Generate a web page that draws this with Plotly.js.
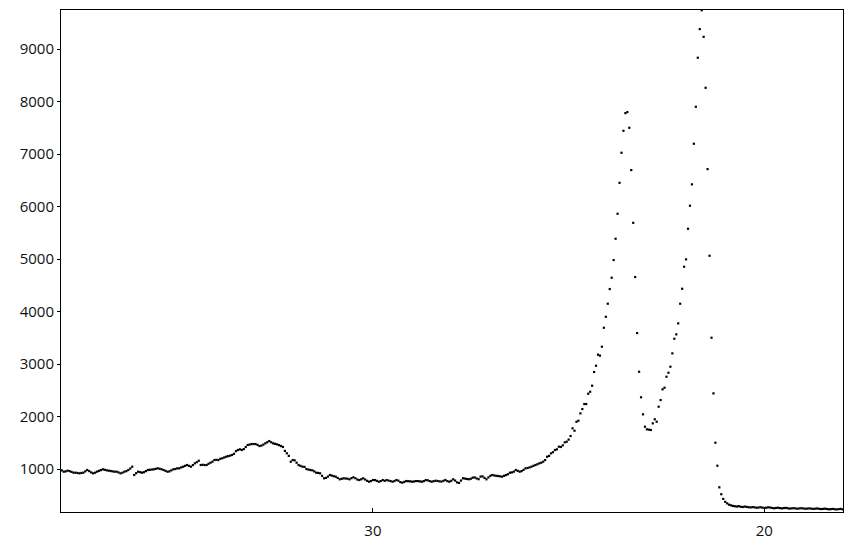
<!DOCTYPE html>
<html><head><meta charset="utf-8">
<script src="https://cdn.plot.ly/plotly-3.0.1.min.js"></script>
<style>html,body{margin:0;padding:0;background:#fff}#chart{width:853px;height:540px}</style>
</head><body><div id="chart"></div>
<script>
const twoTheta = [
37.95,37.9,37.85,37.8,37.75,37.7,37.65,37.6,37.55,37.5,37.45,37.4,37.35,37.3,37.25,37.2,37.15,37.1,37.05,37,
36.95,36.9,36.85,36.8,36.75,36.7,36.65,36.6,36.55,36.5,36.45,36.4,36.35,36.3,36.25,36.2,36.15,36.1,36.05,36,
35.95,35.9,35.85,35.8,35.75,35.7,35.65,35.6,35.55,35.5,35.45,35.4,35.35,35.3,35.25,35.2,35.15,35.1,35.05,35,
34.95,34.9,34.85,34.8,34.75,34.7,34.65,34.6,34.55,34.5,34.45,34.4,34.35,34.3,34.25,34.2,34.15,34.1,34.05,34,
33.95,33.9,33.85,33.8,33.75,33.7,33.65,33.6,33.55,33.5,33.45,33.4,33.35,33.3,33.25,33.2,33.15,33.1,33.05,33,
32.95,32.9,32.85,32.8,32.75,32.7,32.65,32.6,32.55,32.5,32.45,32.4,32.35,32.3,32.25,32.2,32.15,32.1,32.05,32,
31.95,31.9,31.85,31.8,31.75,31.7,31.65,31.6,31.55,31.5,31.45,31.4,31.35,31.3,31.25,31.2,31.15,31.1,31.05,31,
30.95,30.9,30.85,30.8,30.75,30.7,30.65,30.6,30.55,30.5,30.45,30.4,30.35,30.3,30.25,30.2,30.15,30.1,30.05,30,
29.95,29.9,29.85,29.8,29.75,29.7,29.65,29.6,29.55,29.5,29.45,29.4,29.35,29.3,29.25,29.2,29.15,29.1,29.05,29,
28.95,28.9,28.85,28.8,28.75,28.7,28.65,28.6,28.55,28.5,28.45,28.4,28.35,28.3,28.25,28.2,28.15,28.1,28.05,28,
27.95,27.9,27.85,27.8,27.75,27.7,27.65,27.6,27.55,27.5,27.45,27.4,27.35,27.3,27.25,27.2,27.15,27.1,27.05,27,
26.95,26.9,26.85,26.8,26.75,26.7,26.65,26.6,26.55,26.5,26.45,26.4,26.35,26.3,26.25,26.2,26.15,26.1,26.05,26,
25.95,25.9,25.85,25.8,25.75,25.7,25.65,25.6,25.55,25.5,25.45,25.4,25.35,25.3,25.25,25.2,25.15,25.1,25.05,25,
24.95,24.9,24.85,24.8,24.75,24.7,24.65,24.6,24.55,24.5,24.45,24.4,24.35,24.3,24.25,24.2,24.15,24.1,24.05,24,
23.95,23.9,23.85,23.8,23.75,23.7,23.65,23.6,23.55,23.5,23.45,23.4,23.35,23.3,23.25,23.2,23.15,23.1,23.05,23,
22.95,22.9,22.85,22.8,22.75,22.7,22.65,22.6,22.55,22.5,22.45,22.4,22.35,22.3,22.25,22.2,22.15,22.1,22.05,22,
21.95,21.9,21.85,21.8,21.75,21.7,21.65,21.6,21.55,21.5,21.45,21.4,21.35,21.3,21.25,21.2,21.15,21.1,21.05,21,
20.95,20.9,20.85,20.8,20.75,20.7,20.65,20.6,20.55,20.5,20.45,20.4,20.35,20.3,20.25,20.2,20.15,20.1,20.05,20,
19.95,19.9,19.85,19.8,19.75,19.7,19.65,19.6,19.55,19.5,19.45,19.4,19.35,19.3,19.25,19.2,19.15,19.1,19.05,19,
18.95,18.9,18.85,18.8,18.75,18.7,18.65,18.6,18.55,18.5,18.45,18.4,18.35,18.3,18.25,18.2,18.15,18.1,18.05,18
];
const intensity = [
975,949,955,968,960,945,930,930,925,918,925,930,955,981,960,935,918,930,950,965,
980,994,985,975,968,962,955,949,949,935,918,930,949,960,981,1010,1044,886,920,949,
940,930,940,960,981,985,990,994,1003,1013,1005,995,981,965,949,955,975,994,1000,1013,
1013,1030,1044,1060,1076,1060,1044,1075,1108,1130,1158,1076,1080,1076,1076,1100,1120,1140,1171,1175,
1171,1195,1204,1220,1234,1245,1255,1267,1290,1340,1362,1375,1362,1380,1420,1457,1466,1476,1476,1476,
1460,1438,1445,1465,1489,1510,1533,1510,1489,1480,1470,1455,1438,1420,1345,1300,1250,1139,1171,1165,
1120,1076,1060,1044,1040,1000,990,981,975,955,930,925,918,870,823,830,855,886,875,862,
854,830,804,812,823,820,815,804,825,842,825,800,790,805,823,800,775,758,770,790,
790,775,758,770,790,775,790,780,770,758,772,790,778,750,740,755,771,768,765,758,
762,771,770,764,758,770,788,785,770,758,768,777,772,765,760,775,790,770,758,775,
804,780,745,735,780,823,818,810,804,815,835,840,820,806,855,860,830,804,840,870,
886,878,870,867,860,854,870,886,900,930,935,950,981,965,949,960,985,1013,1020,1030,
1044,1060,1076,1090,1108,1120,1140,1171,1234,1250,1298,1320,1362,1375,1425,1420,1450,1508,1520,1560,
1629,1775,1730,1900,1920,2060,2143,2238,2238,2434,2472,2587,2848,2968,3178,3160,3330,3691,3900,4149,
4429,4644,4981,5387,5863,6453,7025,7444,7780,7800,7501,6695,5690,4657,3590,2853,2366,2042,1806,1756,
1750,1743,1870,1947,1901,2187,2314,2518,2549,2758,2834,2949,3203,3482,3565,3775,4149,4434,4854,4994,
5577,6016,6423,7197,7901,8835,9381,9740,9234,8263,6714,5063,3501,2441,1501,1063,651,520,430,375,
345,320,308,296,290,285,292,280,276,284,278,272,268,275,270,262,266,272,264,258,
262,270,266,258,252,258,262,255,250,256,260,252,246,250,255,248,244,250,254,248,
243,246,250,245,240,244,248,242,236,240,244,238,232,236,240,234,230,236,240,232
];
const xTickVals = [30, 20];
const yTickVals = [1000, 2000, 3000, 4000, 5000, 6000, 7000, 8000, 9000];

const tickFont = {family: 'Open Sans, DejaVu Sans, sans-serif', size: 15, color: '#111'};
const layout = {
  width: 853, height: 540,
  margin: {l: 61, r: 10, t: 10, b: 28, pad: 0},
  paper_bgcolor: '#fff', plot_bgcolor: '#fff',
  showlegend: false,
  xaxis: {
    range: [37.97, 17.99], tickvals: xTickVals, ticktext: xTickVals.map(String),
    ticks: 'inside', ticklen: 4, tickwidth: 1, tickcolor: '#000',
    showline: true, linecolor: '#000', linewidth: 1, mirror: true,
    showgrid: false, zeroline: false, tickfont: tickFont, ticklabelstandoff: 5
  },
  yaxis: {
    range: [181, 9745], tickvals: yTickVals, ticktext: yTickVals.map(String),
    ticks: 'outside', ticklen: 3, tickwidth: 1, tickcolor: '#000',
    showline: true, linecolor: '#000', linewidth: 1, mirror: true,
    showgrid: false, zeroline: false, tickfont: tickFont
  }
};
Plotly.newPlot('chart', [{
  x: twoTheta, y: intensity, type: 'scatter', mode: 'markers',
  marker: {symbol: 'square', size: 2.2, color: '#000', line: {width: 0}},
  hoverinfo: 'skip'
}], layout, {staticPlot: true});
</script>
</body></html>
